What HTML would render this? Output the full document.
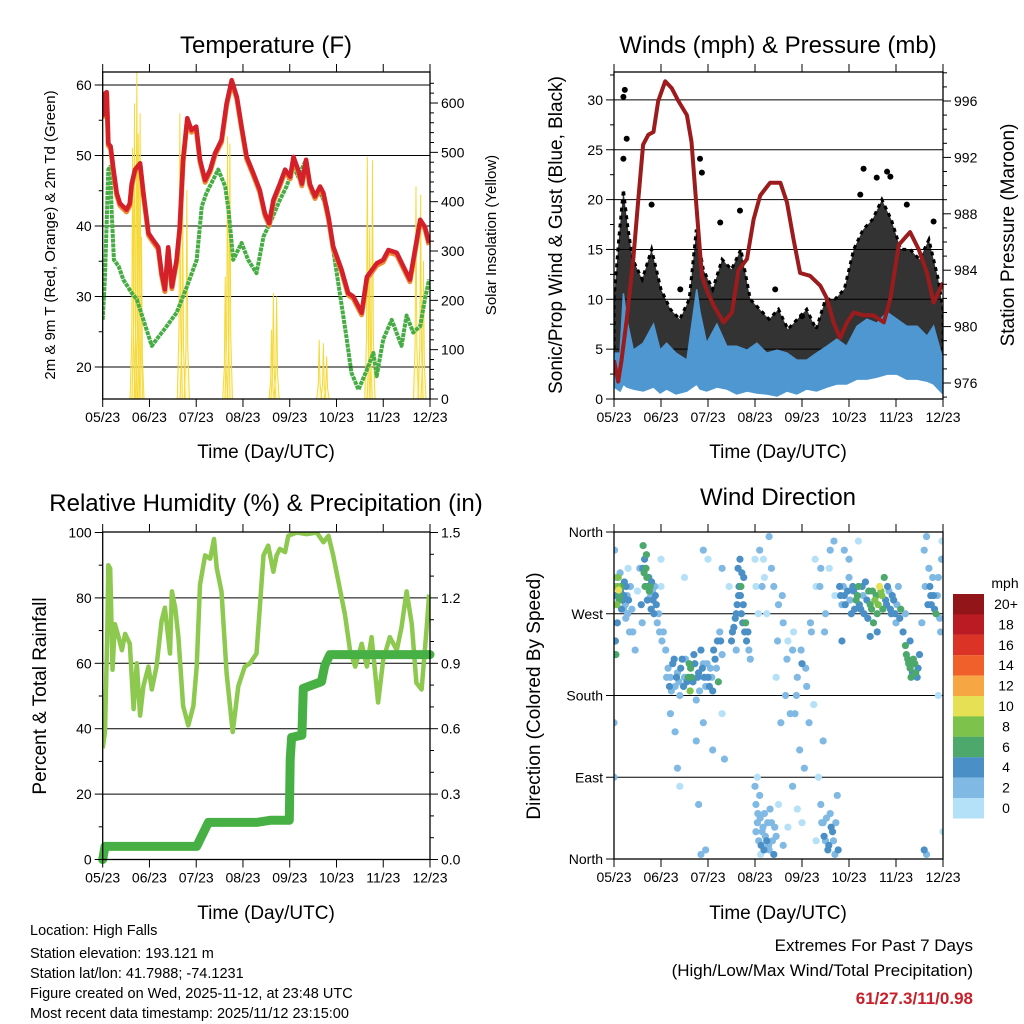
<!DOCTYPE html>
<html><head><meta charset="utf-8"><style>
html,body{margin:0;padding:0;background:#fff;}
svg{display:block;font-family:"Liberation Sans",Arial,sans-serif;}
</style></head><body>
<svg id="chart" width="1024" height="1024" viewBox="0 0 1024 1024" xmlns="http://www.w3.org/2000/svg">
<defs>
<clipPath id="c1"><rect x="102.7" y="72" width="327.3" height="327"/></clipPath>
<clipPath id="c2"><rect x="614" y="72" width="329" height="327"/></clipPath>
<clipPath id="c3"><rect x="102.7" y="532" width="327.3" height="327.5"/></clipPath>
<clipPath id="c4"><rect x="614" y="532" width="329" height="327"/></clipPath>
</defs>
<g id="p1"></g>
<g id="p2"></g>
<g id="p3"></g>
<g id="p4"></g>
<g id="txt">
<text x="266" y="53" font-size="24" text-anchor="middle">Temperature (F)</text>
<text x="778" y="53" font-size="24" text-anchor="middle">Winds (mph) &amp; Pressure (mb)</text>
<text x="266" y="511" font-size="24" text-anchor="middle">Relative Humidity (%) &amp; Precipitation (in)</text>
<text x="778" y="505" font-size="24" text-anchor="middle">Wind Direction</text>
<text x="266" y="458" font-size="19" text-anchor="middle">Time (Day/UTC)</text>
<text x="778" y="458" font-size="19" text-anchor="middle">Time (Day/UTC)</text>
<text x="266" y="919" font-size="19" text-anchor="middle">Time (Day/UTC)</text>
<text x="778" y="919" font-size="19" text-anchor="middle">Time (Day/UTC)</text>
<text transform="translate(55,235) rotate(-90)" font-size="15" text-anchor="middle">2m &amp; 9m T (Red, Orange) &amp; 2m Td (Green)</text>
<text transform="translate(496,235) rotate(-90)" font-size="15" text-anchor="middle">Solar Insolation (Yellow)</text>
<text transform="translate(562,235) rotate(-90)" font-size="19" text-anchor="middle">Sonic/Prop Wind &amp; Gust (Blue, Black)</text>
<text transform="translate(1014,235) rotate(-90)" font-size="19" text-anchor="middle">Station Pressure (Maroon)</text>
<text transform="translate(46,696) rotate(-90)" font-size="19" text-anchor="middle">Percent &amp; Total Rainfall</text>
<text transform="translate(540,696) rotate(-90)" font-size="19" text-anchor="middle">Direction (Colored By Speed)</text>
<text x="30" y="935" font-size="14.5">Location: High Falls</text>
<text x="30" y="958" font-size="14.5">Station elevation: 193.121 m</text>
<text x="30" y="978" font-size="14.5">Station lat/lon: 41.7988; -74.1231</text>
<text x="30" y="998" font-size="14.5">Figure created on Wed, 2025-11-12, at 23:48 UTC</text>
<text x="30" y="1018" font-size="14.5">Most recent data timestamp: 2025/11/12 23:15:00</text>
<text x="973" y="951" font-size="17" text-anchor="end">Extremes For Past 7 Days</text>
<text x="973" y="976" font-size="17" text-anchor="end">(High/Low/Max Wind/Total Precipitation)</text>
<text x="973" y="1004" font-size="17" font-weight="bold" fill="#c8202a" text-anchor="end">61/27.3/11/0.98</text>
</g>
</svg>
<script>
const NS="http://www.w3.org/2000/svg";
const monthLabels=["05/23","06/23","07/23","08/23","09/23","10/23","11/23","12/23"];
// Temperature (months from 05/23, °F)
const tempT=[0,.05,.086,.12,.17,.23,.30,.37,.51,.58,.62,.69,.80,.87,.98,1.08,1.19,1.26,1.33,1.40,1.48,1.58,1.65,1.72,1.81,1.90,2.0,2.08,2.19,2.30,2.40,2.54,2.65,2.76,2.87,2.97,3.08,3.22,3.36,3.47,3.56,3.65,3.79,3.90,4.01,4.08,4.18,4.26,4.35,4.43,4.54,4.65,4.72,4.83,4.93,5.11,5.25,5.36,5.54,5.65,5.86,6.0,6.11,6.29,6.43,6.57,6.68,6.79,6.89,6.98];
const tempV=[55.5,58.8,59,51.7,51.3,48,44.7,43.2,42.3,43.2,46,48,48.9,44.7,39,38,37,33.3,31,37,31.4,35.2,39.9,49.4,55.3,53.6,54.1,49.4,46.5,48,50.3,52.2,57.4,60.7,58.3,54.1,49.8,47.5,45.1,41.8,40.4,43.7,46,48,47,49.8,48,46,49.4,46,44.2,45.6,44.7,41.3,37.1,33.8,30.5,30,27.7,32.8,34.7,35.2,36.6,36.2,34.3,32.4,36.6,40.9,39.9,37.6];
const dewT=[0,.05,.12,.16,.19,.24,.34,.44,.62,.73,.87,1.05,1.15,1.37,1.58,1.80,2.01,2.12,2.22,2.47,2.62,2.69,2.79,2.97,3.11,3.29,3.44,3.61,3.79,3.93,4.08,4.18,4.35,4.47,4.65,4.79,4.93,5.07,5.22,5.32,5.47,5.65,5.79,5.86,6.0,6.18,6.39,6.5,6.64,6.79,6.89,6.98];
const dewV=[26.7,32.9,48,48.4,42.3,35.2,34.3,32.4,30.5,29.6,26.7,23,23.9,25.8,27.7,31.4,35.2,42.8,44.7,48,45.6,42.3,35.2,37.6,35.2,33.3,38.5,40.9,43.7,45.6,48.4,47,49.4,44.7,44.7,42.8,36.6,30.5,23.9,19.2,16.8,19.6,22,18.7,23.9,26.7,23,27.3,24.9,25.8,29.6,32.4];
const solarT=[.64,.68,.73,.76,.80,.83,1.65,1.71,1.80,2.62,2.67,2.72,3.61,3.65,3.72,4.63,4.72,4.79,5.66,5.71,5.77,6.70,6.80,6.86];
const solarV=[509,599,663,538,579,329,579,417,424,248,532,518,140,215,208,120,113,86,491,348,484,431,414,280];
// Winds
const presT=[0,.09,.16,.27,.41,.52,.62,.73,.84,.94,1.09,1.23,1.37,1.55,1.65,1.76,1.87,1.97,2.12,2.33,2.51,2.65,2.83,2.97,3.11,3.32,3.54,3.68,3.82,3.96,4.17,4.39,4.53,4.67,4.81,4.96,5.10,5.31,5.52,5.74,5.88,6.06,6.30,6.48,6.66,6.80,7.0];
const presV=[977.6,976.1,977.6,980.5,984.8,989.1,992.9,993.6,993.8,996,997.4,996.9,996,995,993.1,988.3,983.6,982.6,981.5,980.3,981,984,984.8,987.6,989.3,990.2,990.2,988.8,986.2,983.8,983.6,982.9,982,980.3,979.2,980.3,981,980.8,980.8,980.3,982,985.8,986.7,985.5,983.8,981.7,983.1];
const windT=[0,.13,.2,.27,.41,.62,.84,0.98,1.12,1.32,1.55,1.76,1.83,1.97,2.19,2.40,2.61,2.83,3.04,3.25,3.47,3.68,3.89,4.10,4.31,4.53,4.74,4.95,5.17,5.38,5.59,5.81,6.02,6.23,6.45,6.66,6.80,7.0];
const windHi=[4.6,4.6,10.6,8,4.9,5.6,7.5,4.9,5.6,4.6,3.9,11,8.7,5.6,7.5,5.3,5.3,4.9,5.6,4.6,4.9,4.6,3.9,3.9,4.6,5.3,6,5.3,7.3,8,7.6,8.7,8,7.3,7.3,6.3,7.3,3.9];
const windLo=[1.2,0.8,1.5,1.2,1,0.8,1.2,0.6,1,0.5,0.8,1.5,1,0.8,1.2,1,0.5,0.8,0.6,0.5,0.3,0.8,0.5,1,0.8,1.2,1.5,1.5,2,2,2.2,2.5,2.5,2,2,1.8,1.5,0.5];
const gustT=[0,.1,.2,.3,.4,.6,.8,1.0,1.2,1.4,1.6,1.75,1.9,2.1,2.3,2.5,2.7,2.9,3.1,3.3,3.5,3.7,3.9,4.1,4.3,4.5,4.7,4.9,5.1,5.3,5.5,5.7,5.9,6.1,6.3,6.5,6.7,6.9,7.0];
const gustHi=[10,16,21,17,14,12,15,11,9,8,10,17,13,11,14,13,15,10,9,8,9,7,8,9,7,10,10,11,15,17,18,20,18,15,15,14,16,12,9];
const gustLo=[3,3.5,4,4,3.5,3.5,3,3,2.5,2.5,3,3.5,3,3,3,3,3,2.5,2,2,1.5,1.5,2,2,2,2.5,3,3.5,4,4.5,5,5,5,5,5,4.5,4.5,3.5,2];
const gustOutT=[0.2,0.23,0.27,0.2,0.8,1.83,1.87,2.68,5.31,5.59,5.81,5.88,6.23,5.24,1.41,3.43,4.0,2.26,6.8];
const gustOutV=[30.3,31,26.1,24.1,19.5,24.1,22.7,18.9,23.1,22.2,22.8,22.3,19.5,20.5,11,11,8.3,17.7,17.8];
// Humidity & precipitation
const rhT=[0,.05,.1,.12,.16,.19,.21,.26,.34,.41,.48,.58,.66,.73,.80,.87,.98,1.05,1.15,1.26,1.33,1.44,1.48,1.55,1.62,1.72,1.83,1.94,2.01,2.08,2.19,2.30,2.38,2.44,2.54,2.65,2.78,2.90,3.04,3.15,3.29,3.36,3.44,3.54,3.65,3.72,3.79,3.90,3.97,4.15,4.36,4.58,4.72,4.83,4.93,5.04,5.18,5.29,5.40,5.54,5.65,5.75,5.89,6.0,6.14,6.29,6.39,6.5,6.61,6.71,6.82,6.93,6.98];
const rhV=[34,39,71,90,89,71,58,72,68,64,69,66,46,60,44,53,59,52,59,73,77,63,82,77,68,47,41,47,59,84,93,92,98,89,82,57,39,53,59,60,63,77,93,96,88,93,95,94,99,100,99.5,100,97,99,93,85,75,64,59,66,59,68,48,61,68,64,71,82,72,54,52,71,81];
const prT=[0,.05,2.01,2.26,3.29,3.58,3.99,4.01,4.04,4.26,4.29,4.68,4.75,4.86,7.0];
const prV=[0,0.06,0.06,0.17,0.17,0.18,0.18,0.46,0.56,0.57,0.785,0.816,0.89,0.94,0.94];
// Wind direction: time (months), direction (deg), speed (mph)
const dirTa=[0.02,0.03,0.04,0.05,0.08,0.1,0.12,0.15,0.18,0.2,0.22,0.25,0.28,0.3,0.07,0.13,0.33,0.01,0.0,0.0,
0.62,0.65,0.68,0.7,0.72,0.75,0.78,0.8,0.83,0.87,0.9,0.95,1.0,0.6,0.58,0.4,0.45,0.5,0.55,
1.05,1.1,1.15,1.2,1.25,1.3,1.35,1.4,1.45,1.5,1.55,1.6,1.62,1.65,1.7,1.75,1.8,1.85,1.9,1.95,2.0,2.05,2.1,2.15,2.2,2.25,2.3,1.3,1.35,1.4,1.2,1.75,1.8,1.9,2.1,2.3,2.35,1.0,1.5,1.9,2.0,1.95,1.85,
2.5,2.55,2.6,2.65,2.7,2.75,2.8,2.85,2.68,2.72,2.6,2.9,2.45,2.3,
3.0,3.1,3.2,3.3,3.4,3.5,3.6,3.7,3.8,3.9,4.0,4.1,4.2,4.3,4.4,4.5,4.6,4.7,3.15,3.25,3.45,3.55,3.65,3.85,3.95,4.05,4.15,4.25,4.35,4.45,3.05,3.0,3.02,3.05,3.1,3.15,3.2,3.25,3.3,3.35,3.4,3.45,3.5,3.6,3.7,3.8,3.9,4.4,4.45,4.5,4.55,4.6,4.65,4.7,4.75,3.12,4.3,4.0,
4.8,4.85,4.9,5.0,5.05,5.1,5.15,5.2,5.25,5.3,5.35,5.4,5.45,5.5,5.55,5.6,5.65,5.7,5.75,5.8,5.85,5.9,5.95,6.0,6.05,5.0,4.9,5.2,5.6,5.45,4.85,6.1,
6.15,6.2,6.25,6.3,6.35,6.4,6.45,6.5,6.3,6.2,6.55,
6.6,6.65,6.7,6.72,6.75,6.8,6.85,6.9,6.95,6.98,6.9,6.6,6.65,7.0];
const dirDa=[300,240,225,310,300,296,290,300,285,275,305,265,290,320,260,315,250,340,150,90,
345,330,320,310,300,295,290,305,285,300,280,270,300,260,280,250,230,295,320,
250,230,210,200,215,190,205,180,220,200,195,215,185,200,225,175,205,230,215,190,200,210,185,220,240,250,225,140,100,80,160,130,60,150,120,160,110,330,310,340,330,10,5,
240,255,270,290,300,280,260,250,330,315,230,220,300,320,
330,340,310,355,300,280,260,240,230,200,215,190,250,300,320,270,340,290,300,270,200,150,180,160,120,100,150,170,90,130,90,80,60,40,70,30,50,20,10,40,5,25,60,15,35,80,55,60,40,20,10,50,30,5,70,5,20,40,
300,280,290,310,270,295,285,300,275,290,305,265,280,295,285,270,300,290,310,280,295,270,285,260,300,330,340,350,250,245,240,275,
250,235,220,210,205,215,200,225,240,270,260,
340,355,320,300,280,290,270,310,250,350,180,10,5,30];
const dirSa=[3,5,6,2,8,10,7,6,4,3,4,3,2,1,4,3,2,2,2,3,
6,5,6,7,4,6,3,5,4,3,4,2,1,3,4,2,3,1,2,
2,3,3,2,4,3,2,3,4,3,5,6,8,7,4,3,4,4,3,2,4,3,5,4,4,3,2,2,2,1,2,2,3,2,2,1,2,1,1,3,1,3,2,
4,4,5,4,6,5,6,4,4,4,3,3,1,2,
1,2,1,2,2,3,2,1,2,3,4,3,2,1,2,3,2,1,2,1,1,2,2,3,3,2,2,1,1,2,1,2,2,3,2,2,3,4,3,2,4,2,1,2,1,2,1,2,3,3,4,2,4,3,2,1,1,1,
4,3,4,3,4,5,6,6,4,3,4,5,6,7,8,7,10,8,6,4,3,4,4,3,2,2,3,1,5,4,4,6,
4,6,6,6,5,6,5,4,4,3,2,
2,2,3,4,4,5,6,3,2,1,1,4,2,1];
const dirTb=[0.04,0.06,0.09,0.11,0.14,0.16,0.19,0.21,0.24,0.26,0.29,0.31,0.35,0.38,
0.61,0.64,0.66,0.69,0.71,0.74,0.77,0.79,0.82,0.85,0.88,0.92,0.97,1.02,
1.12,1.18,1.22,1.28,1.33,1.38,1.42,1.48,1.52,1.58,1.63,1.68,1.72,1.78,1.82,1.88,1.92,1.98,2.03,2.08,2.12,2.18,2.22,2.27,
2.52,2.58,2.62,2.66,2.69,2.71,2.74,2.78,2.82,2.87,2.64,2.76,
3.02,3.06,3.08,3.11,3.13,3.17,3.19,3.22,3.27,3.29,3.32,3.37,3.42,
4.42,4.47,4.52,4.57,4.62,4.67,4.72,4.77,
4.82,4.88,4.92,4.97,5.02,5.08,5.12,5.18,5.22,5.28,5.32,5.38,5.42,5.48,5.52,5.58,5.62,5.68,5.72,5.78,5.82,5.88,5.92,5.98,6.02,6.08,
6.22,6.27,6.32,6.37,6.42,6.47,
6.62,6.68,6.74,6.78,6.82,6.88,6.93,6.97,
3.02,3.07,3.18,3.35,3.48,3.58,3.68,3.75,3.82,3.88,3.98,4.08,4.18,4.28,4.38,4.48,4.58,4.68];
const dirDb=[290,280,310,285,295,275,300,290,280,300,270,285,300,275,
320,315,300,335,285,310,300,275,295,270,290,260,250,240,
200,190,185,220,200,195,210,190,220,200,210,195,215,200,185,210,200,215,190,200,230,210,195,240,
250,265,280,300,290,270,260,250,240,230,320,310,
30,50,20,45,15,35,10,25,40,15,55,20,35,
40,25,45,15,35,20,40,10,
290,300,280,295,285,300,275,290,280,300,270,285,295,275,260,290,280,295,275,285,300,275,290,270,280,265,
225,215,200,220,205,210,
300,280,290,310,275,290,265,330,
300,270,330,320,240,290,220,160,250,180,230,210,260,330,300,250,320,350];
const dirSb=[5,8,9,6,5,4,3,4,3,4,3,4,3,2,
5,6,7,6,5,4,6,4,3,4,4,3,3,2,
3,4,3,4,4,3,4,4,3,6,7,5,4,4,3,4,4,3,4,3,4,3,6,4,
4,4,4,5,4,4,5,4,4,3,4,4,
2,3,3,2,4,3,4,3,2,3,2,3,2,
3,4,3,4,4,3,2,4,
4,3,4,4,3,4,5,6,5,4,4,5,6,7,6,7,8,9,7,5,4,4,4,4,3,4,
6,7,6,6,6,5,
3,4,4,3,4,3,3,2,
1,1,1,2,2,3,2,2,1,3,3,3,2,1,2,2,1,2];
const dirT=dirTa.concat(dirTb), dirD=dirDa.concat(dirDb), dirS=dirSa.concat(dirSb);
const cbLabels=["20+","18","16","14","12","10","8","6","4","2","0"];
const cbColors=["#921519","#bb1b22","#dc3327","#f0602b","#f6a743","#e6e055","#7dc24b","#4ca86b","#4a90c7","#7fb9e4","#b4e1f7"];

function el(tag,attrs,parent){const e=document.createElementNS(NS,tag);for(const k in attrs)e.setAttribute(k,attrs[k]);parent.appendChild(e);return e;}
function txt(parent,x,y,s,size,anchor){const t=el("text",{x:x,y:y,"font-size":size,"text-anchor":anchor},parent);t.textContent=s;return t;}
function pathD(xs,ys,fx,fy){return xs.map((t,i)=>(i?"L":"M")+fx(t).toFixed(1)+","+fy(ys[i]).toFixed(1)).join("");}
function bandD(xs,hi,lo,fx,fy){let d=pathD(xs,hi,fx,fy);for(let i=xs.length-1;i>=0;i--)d+="L"+fx(xs[i]).toFixed(1)+","+fy(lo[i]).toFixed(1);return d+"Z";}
function xAxis(g,x0,x1,yb,yt){const n=monthLabels.length-1;monthLabels.forEach((lab,i)=>{const x=x0+(x1-x0)*i/n;
const tk=el("line",{x1:x,y1:yb,x2:x,y2:yb+8,stroke:"#000","stroke-width":1},g);


el("line",{x1:x,y1:yt,x2:x,y2:yt-8,stroke:"#000","stroke-width":1},g);
const t=txt(g,x,yb+23,lab,14,"middle");

});}
function frame(g,x0,y0,x1,y1){const r=el("rect",{x:x0,y:y0,width:x1-x0,height:y1-y0,fill:"none",stroke:"#000","stroke-width":1.3},g);

}
function hgrid(g,x0,x1,y){const l=el("line",{x1:x0,y1:y,x2:x1,y2:y,stroke:"#000","stroke-width":1},g);

}
function yTicks(g,x,vals,fy,labels,side,minor){vals.forEach((v,i)=>{const y=fy(v);const dx=side<0?-8:8;
el("line",{x1:x,y1:y,x2:x+dx,y2:y,stroke:"#000"},g);
const t=txt(g,x+(side<0?-11:11),y+5,labels[i],14,side<0?"end":"start");

});
(minor||[]).forEach(v=>{const y=fy(v);el("line",{x1:x,y1:y,x2:x+(side<0?-4:4),y2:y,stroke:"#000"},g);});}

// ---------- Panel 1 ----------
(function(){const g=document.getElementById("p1");
const x0=102.7,x1=430,y0=72,y1=399;
const xT=m=>x0+m*(x1-x0)/7, yT=v=>367-(v-20)*7.05, yS=v=>399-v*0.4933;
[20,30,40,50,60].forEach(v=>hgrid(g,x0,x1,yT(v)));
const cg=el("g",{"clip-path":"url(#c1)"},g);
solarT.forEach((t,i)=>{const w=0.055;const p=el("path",{d:"M"+xT(t-w)+","+yS(0)+"L"+xT(t-w*0.35)+","+yS(solarV[i]*0.25)+"L"+xT(t)+","+yS(solarV[i])+"L"+xT(t+w*0.35)+","+yS(solarV[i]*0.25)+"L"+xT(t+w)+","+yS(0),fill:"#f8e77a","fill-opacity":0.3,stroke:"#f5d939","stroke-width":1},cg);

});
const dew=el("path",{d:pathD(dewT,dewV,xT,yT),fill:"none",stroke:"#45ad43","stroke-width":4,"stroke-dasharray":"4 0.8","stroke-linejoin":"round"},cg);


const t9=el("path",{d:pathD(tempT,tempV.map(v=>v-0.3),xT,yT),fill:"none",stroke:"#f08a32","stroke-width":5,"stroke-linejoin":"round"},cg);


const t2=el("path",{d:pathD(tempT,tempV,xT,yT),fill:"none",stroke:"#d3202a","stroke-width":4.5,"stroke-linejoin":"round"},cg);


frame(g,x0,y0,x1,y1);
yTicks(g,x0,[20,30,40,50,60],yT,["20","30","40","50","60"],-1,[25,35,45,55]);
yTicks(g,x1,[0,100,200,300,400,500,600],yS,["0","100","200","300","400","500","600"],1,[20,40,60,80,120,140,160,180,220,240,260,280,320,340,360,380,420,440,460,480,520,540,560,580,620,640]);
xAxis(g,x0,x1,y1,y0);})();

// ---------- Panel 2 ----------
(function(){const g=document.getElementById("p2");
const x0=614,x1=943,y0=72,y1=399;
const xW=m=>x0+m*(x1-x0)/7, yW=v=>399-v*9.97, yP=p=>383-(p-976)*14.1;
[5,10,15,20,25,30].forEach(v=>hgrid(g,x0,x1,yW(v)));
const cg=el("g",{"clip-path":"url(#c2)"},g);
const gb=el("path",{d:bandD(gustT,gustHi,gustLo,xW,yW),fill:"#000","fill-opacity":0.8,stroke:"#000","stroke-width":3,"stroke-dasharray":"4 4"},cg);


gustOutT.forEach((t,i)=>{const c=el("circle",{cx:xW(t),cy:yW(gustOutV[i]),r:3,fill:"#000"},cg);

});
const wb=el("path",{d:bandD(windT,windHi,windLo,xW,yW),fill:"#4f97d1",stroke:"#4f97d1","stroke-width":1.5},cg);


const pl=el("path",{d:pathD(presT,presV,xW,yP),fill:"none",stroke:"#9c1b1d","stroke-width":4,"stroke-linejoin":"round"},cg);


frame(g,x0,y0,x1,y1);
yTicks(g,x0,[0,5,10,15,20,25,30],yW,["0","5","10","15","20","25","30"],-1,[2.5,7.5,12.5,17.5,22.5,27.5,32.5]);
const minP=[];for(let p=975;p<=998;p++)if(p%4)minP.push(p);
yTicks(g,x1,[976,980,984,988,992,996],yP,["976","980","984","988","992","996"],1,minP);
xAxis(g,x0,x1,y1,y0);})();

// ---------- Panel 3 ----------
(function(){const g=document.getElementById("p3");
const x0=102.7,x1=430,y0=532,y1=859.5;
const xR=m=>x0+m*(x1-x0)/7, yR=v=>859.5-v*3.27, yPr=v=>859.5-v*218;
[20,40,60,80].forEach(v=>hgrid(g,x0,x1,yR(v)));
const cg=el("g",{"clip-path":"url(#c3)"},g);
const rl=el("path",{d:pathD(rhT,rhV,xR,yR),fill:"none",stroke:"#8dc84f","stroke-width":4.5,"stroke-linejoin":"round"},cg);


const pr=el("path",{d:pathD(prT,prV,xR,yPr),fill:"none",stroke:"#47b045","stroke-width":9,"stroke-linejoin":"round","stroke-linecap":"round"},g);


frame(g,x0,y0,x1,y1);
yTicks(g,x0,[0,20,40,60,80,100],yR,["0","20","40","60","80","100"],-1,[10,30,50,70,90]);
yTicks(g,x1,[0,0.3,0.6,0.9,1.2,1.5],yPr,["0.0","0.3","0.6","0.9","1.2","1.5"],1,[0.1,0.2,0.4,0.5,0.7,0.8,1.0,1.1,1.3,1.4]);
xAxis(g,x0,x1,y1,y0);})();

// ---------- Panel 4 ----------
(function(){const g=document.getElementById("p4");
const x0=614,x1=943,y0=532,y1=859;
const xD=m=>x0+m*(x1-x0)/7, yD=d=>859-d*327/360;
[90,180,270].forEach(v=>hgrid(g,x0,x1,yD(v)));
const cg=el("g",{"clip-path":"url(#c4)"},g);
function col(s){const i=Math.min(10,Math.floor(s/2));return cbColors[10-i];}
const order=dirT.map((t,i)=>i).sort((a,b)=>dirS[a]-dirS[b]);
order.forEach(i=>{const c=el("circle",{cx:xD(dirT[i]),cy:yD(dirD[i]),r:3.6,fill:col(dirS[i])},cg);

});
frame(g,x0,y0,x1,y1);
yTicks(g,x0,[0,90,180,270,360],yD,["North","East","South","West","North"],-1,[]);
xAxis(g,x0,x1,y1,y0);
const lg=el("g",{},g);


const t0=txt(lg,1005,588,"mph",14,"middle");


cbColors.forEach((c,i)=>{const r=el("rect",{x:953,y:594+i*20.4,width:31,height:20.5,fill:c},lg);


const t=txt(lg,1006,594+i*20.4+15,cbLabels[i],14,"middle");

});})();
</script>
</body></html>
